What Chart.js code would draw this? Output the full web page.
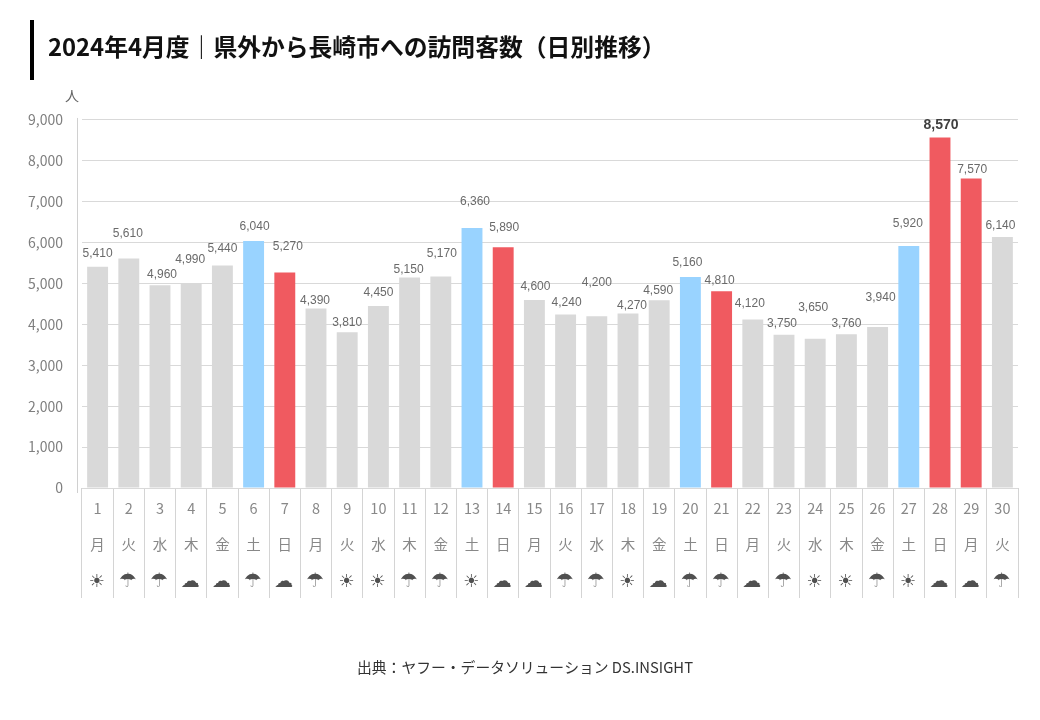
<!DOCTYPE html>
<html lang="ja"><head><meta charset="utf-8">
<style>html,body{margin:0;padding:0;background:#fff}#w{position:relative;width:1040px;height:720px}canvas{display:block}</style>
<script src="https://cdn.jsdelivr.net/npm/chart.js@4"></script></head>
<body><div id="w"><canvas id="c" width="1040" height="720"></canvas></div>
<script>
const days = ["1","2","3","4","5","6","7","8","9","10","11","12","13","14","15","16","17","18","19","20","21","22","23","24","25","26","27","28","29","30"];
const weekdays = ["月","火","水","木","金","土","日","月","火","水","木","金","土","日","月","火","水","木","金","土","日","月","火","水","木","金","土","日","月","火"];
const weather = ["☀","☂","☂","☁","☁","☂","☁","☂","☀","☀","☂","☂","☀","☁","☁","☂","☂","☀","☁","☂","☂","☁","☂","☀","☀","☂","☀","☁","☁","☂"];
const visitors = [5410,5610,4960,4990,5440,6040,5270,4390,3810,4450,5150,5170,6360,5890,4600,4240,4200,4270,4590,5160,4810,4120,3750,3650,3760,3940,5920,8570,7570,6140];
const yTicks = [0,1000,2000,3000,4000,5000,6000,7000,8000,9000];
const labelLift = [13,25,10,24,17,14,26,8,10,13,8,23,26,19,13,12,34,8,10,14,11,16,11,31,11,29,22,12,9,11];
const labelShift = [0,-1,2,-1,0,1,3,-1,0,0,-1,1,3,1,1,1,0,4,-1,-3,-2,-3,-2,-2,0,3,-1,1,1,-2];
const titleText = "2024年4月度｜県外から長崎市への訪問客数（日別推移）";
const sourceText = "出典：ヤフー・データソリューション DS.INSIGHT";
const unitText = "人";
const redDays = [7,14,21,28,29];
const blueDays = [6,13,20,27];
const JP = '"Noto Sans CJK JP","Noto Sans",sans-serif';
const fmt = v => v.toLocaleString("en-US");
const colours = days.map(d => redDays.includes(+d) ? "#f05a60" : blueDays.includes(+d) ? "#99d3ff" : "#d9d9d9");
const glyphSize = { "☀": 18, "☂": 20, "☁": 19 };

const extras = {
  id: "extras",
  afterLayout(chart) { chart.titleBlock.left = 48; },
  afterDatasetsDraw(chart) {
    const {ctx, scales:{x,y}} = chart;
    const bars = chart.getDatasetMeta(0).data;
    ctx.save();
    ctx.textAlign = "center"; ctx.textBaseline = "middle";
    bars.forEach((b,i) => {
      const peak = visitors[i] === Math.max(...visitors);
      ctx.font = (peak ? "bold 14px " : "12px ") + '"Liberation Sans",Arial,sans-serif';
      ctx.fillStyle = peak ? "#404040" : "#6a6a6a";
      ctx.fillText(fmt(visitors[i]), b.x + labelShift[i], b.y - labelLift[i]);
    });
    ctx.fillStyle = "#505050";
    weather.forEach((w,i) => {
      ctx.font = glyphSize[w] + 'px "DejaVu Sans",sans-serif';
      ctx.fillText(w, x.getPixelForTick(i) - 1, 582);
    });
    // y axis rule, set slightly left of the grid
    ctx.strokeStyle = "#d0d0d0"; ctx.lineWidth = 1;
    ctx.beginPath(); ctx.moveTo(77.5, y.top - 2); ctx.lineTo(77.5, y.bottom + 5); ctx.stroke();
    // title accent
    ctx.fillStyle = "#000"; ctx.fillRect(30, 20, 4, 60);
    // unit + source
    ctx.fillStyle = "#666"; ctx.font = '14px ' + JP;
    ctx.fillText(unitText, 72, 96);
    ctx.fillStyle = "#333"; ctx.font = '14.8px ' + JP;
    ctx.fillText(sourceText, 525, 667);
    ctx.restore();
  }
};

new Chart(document.getElementById("c"), {
  type: "bar",
  data: { labels: days.map((d,i) => [d, weekdays[i]]),
          datasets: [{ data: visitors, backgroundColor: colours, barPercentage: 0.67, categoryPercentage: 1 }] },
  plugins: [extras],
  options: {
    responsive: false, animation: false,
    layout: { padding: { left: 10, right: 22, top: 33, bottom: 0 } },
    plugins: {
      legend: { display: false }, tooltip: { enabled: false },
      title: { display: true, text: titleText, align: "start", color: "#111",
               font: { family: JP, size: 23.8, weight: "bold", lineHeight: 1.2 }, padding: { top: 0, bottom: 58.4 } }
    },
    scales: {
      x: {
        afterFit(s) { s.height = 232; },
        border: { display: false },
        grid: { drawOnChartArea: false, drawTicks: true, tickLength: 110, color: "#d4d4d4", offset: true },
        ticks: { autoSkip: false, maxRotation: 0, minRotation: 0, padding: -107, color: "#888",
                 font: { family: JP, size: 14.5, lineHeight: 2.45 } }
      },
      y: {
        min: 0, max: 9000,
        afterFit(s) { s.width = 72; },
        afterBuildTicks(s) { s.ticks = yTicks.map(value => ({ value })); },
        border: { display: false },
        grid: { color: "#d9d9d9", drawTicks: false },
        ticks: { padding: 19, color: "#7f7f7f", font: { family: JP, size: 14 }, callback: v => fmt(v) }
      }
    }
  }
});
</script></body></html>
